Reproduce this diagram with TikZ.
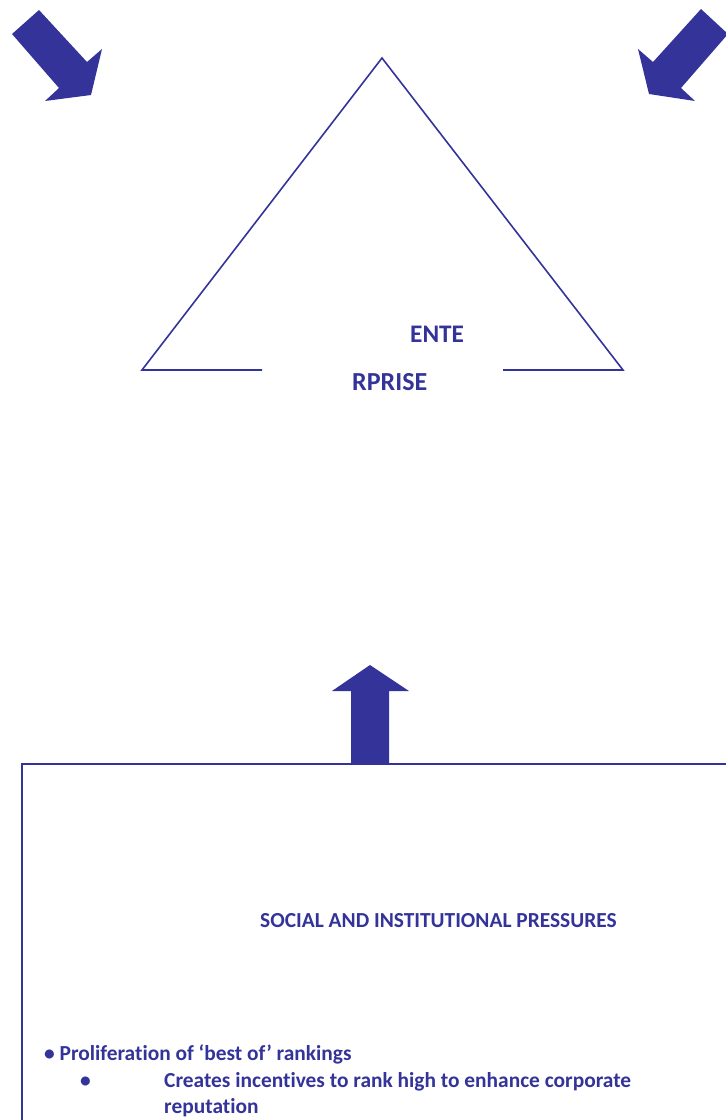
\documentclass[tikz,border=0pt]{standalone}
\usepackage{fontspec}
\setmainfont[Ligatures={NoCommon}]{Carlito}
\definecolor{navy}{HTML}{333399}
\begin{document}
\begin{tikzpicture}[x=1pt,y=-1pt,
  arrowshape/.style={fill=navy,draw=none},
  lineshape/.style={draw=navy,line width=1.6pt},
  txt/.style={text=navy,font=\bfseries,inner sep=0pt,anchor=base west}]
\useasboundingbox (0,0) rectangle (726,1120);
% arrows
\fill[arrowshape] (39,10) -- (87,62) -- (102,49) -- (91,95) -- (45,101) -- (59,88) -- (12,34) -- cycle;
\fill[arrowshape] (701,9) -- (728,34) -- (681,88) -- (695,101) -- (649,94) -- (638,49) -- (653,62) -- cycle;
% triangle
\coordinate (apex) at (382,58);
\coordinate (bl) at (142,370);
\coordinate (br) at (623,370);
\coordinate (gl) at (262,370);
\coordinate (gr) at (503,370);
\draw[lineshape,line join=miter] (gl) -- (bl) -- (apex) -- (br) -- (gr);
\node[txt,font=\bfseries\fontsize{25.3}{30}\selectfont] (ente) at (410,342) {ENTE};
\node[txt,font=\bfseries\fontsize{26}{30}\selectfont] (rprise) at (352,390) {RPRISE};
% up arrow
\fill[arrowshape] (351,764) -- (351,691) -- (332,691) -- (370,665) -- (409,691) -- (389,691) -- (389,764) -- cycle;
% box
\draw[draw=navy,line width=2pt] (22,1125) -- (22,764) -- (730,764);
\node[txt,font=\bfseries\fontsize{21.4}{24}\selectfont] (title) at (260,927) {SOCIAL AND INSTITUTIONAL PRESSURES};
\node[txt,font=\bfseries\fontsize{21.4}{24}\selectfont] (b1) at (44,1060) {• Proliferation of ‘best of’ rankings};
\node[txt,font=\bfseries\fontsize{21.4}{24}\selectfont] (b2dot) at (80,1087) {•};
\node[txt,font=\bfseries\fontsize{21.4}{24}\selectfont] (b2) at (164,1087) {Creates incentives to rank high to enhance corporate};
\node[txt,font=\bfseries\fontsize{21.4}{24}\selectfont] (b3) at (164,1113) {reputation};
\end{tikzpicture}
\end{document}
